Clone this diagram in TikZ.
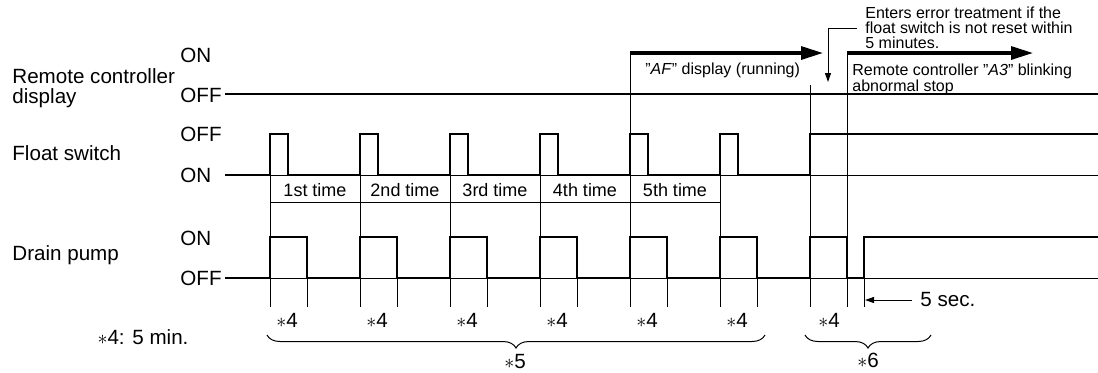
\documentclass[tikz,border=0pt]{standalone}
\usepackage{fontspec}
\setmainfont{Liberation Sans}
\usetikzlibrary{arrows.meta,positioning,decorations.pathreplacing}

\begin{document}
\begin{tikzpicture}[x=0.5pt,y=-0.5pt,
  every node/.style={inner sep=0pt,font=\fontsize{10.3}{10}\selectfont},
  sig/.style={line width=1.1pt},
  guide/.style={line width=0.45pt},
  bigarrow/.style={line width=1.6pt,-{Triangle[length=11pt,width=6.5pt]}},
  smallarrow/.style={line width=0.5pt,-{Triangle[length=4.5pt,width=3pt]}},
  small/.style={font=\fontsize{8}{7.4}\selectfont,align=left},
  stamp/.style={decorate,decoration={brace,mirror,amplitude=6.5pt},line width=0.5pt}]
  \useasboundingbox (0,0) rectangle (1098,372);
  % row labels
  \node[anchor=west,align=left] (rc) at (12,88) {Remote controller\\display};
  \node[anchor=west] (fs) at (12,153) {Float switch};
  \node[anchor=west] (dp) at (12,255) {Drain pump};
  \foreach \t/\y/\n in {ON/55/rcon,OFF/95/rcoff,OFF/134/fsoff,ON/175/fson,ON/238/dpon,OFF/278/dpoff}
    \node[anchor=west] (\n) at (180,\y) {\t};
  % base lines
  \draw[sig] (225,94) -- (1098,94);
  \draw[guide] (225,175) -- (1098,175);
  \draw[guide] (225,278) -- (1098,278);
  % float switch
  \draw[sig] (225,175) foreach \x in {270,360,450,540,630,720} {-- (\x,175) -- (\x,134) -- (\x+18,134) -- (\x+18,175)} -- (810,175) -- (810,134) -- (1098,134);
  % drain pump
  \draw[sig] (225,278) foreach \x in {270,360,450,540,630,720,810} {-- (\x,278) -- (\x,237) -- (\x+37,237) -- (\x+37,278)} -- (864,278) -- (864,237) -- (1098,237);
  % guide lines and 5 min marks
  \foreach \x in {270,360,450,540,630,720} {
    \draw[guide] (\x,134) -- (\x,307);
    \draw[guide] (\x+37,237) -- (\x+37,307);
    \node at (\x+17,320) {$\ast$4};
  }
  \foreach \x/\n in {270/1st,360/2nd,450/3rd,540/4th,630/5th}
    \node[font=\fontsize{9}{9}\selectfont] at (\x+45,190) {\n\ time};
  \draw[guide] (270,202) -- (720,202);
  \draw[guide] (630,53) -- (630,134);
  \draw[guide] (810,85) -- (810,307);
  \draw[guide] (847,53) -- (847,307);
  \draw[guide] (864,237) -- (864,307);
  \node at (829,320) {$\ast$4};
  % remote controller display
  \draw[bigarrow] (630,53) -- (823,53);
  \draw[bigarrow] (847,53) -- (1033,53);
  \node[small,anchor=west] (af) at (645,70) {\symbol{34}\textit{AF}\symbol{34} display (running)};
  \node[small,anchor=north west] (a3) at (852,63) {Remote controller \symbol{34}\textit{A3}\symbol{34} blinking\\abnormal stop};
  \node[small,anchor=west] (note) at (865,28) {Enters error treatment if the\\float switch is not reset within\\5 minutes.};
  \coordinate (errpt) at (828,82);
  \draw[smallarrow] ([xshift=-4pt]note.west) -| (errpt);
  % 5 sec
  \node[anchor=west] (sec) at (920,300) {5 sec.};
  \coordinate (secpt) at (865,300);
  \draw[smallarrow] ([xshift=-4pt]sec.west) -- (secpt);
  % braces
  \draw[stamp] (267,335) -- (765,335);
  \node (s5) at (515,362) {$\ast$5};
  \draw[stamp] (805,335) -- (931,335);
  \node (s6) at (868,360) {$\ast$6};
  \node (min) at (143,337) {$\ast$4: 5 min.};
\end{tikzpicture}
\end{document}
